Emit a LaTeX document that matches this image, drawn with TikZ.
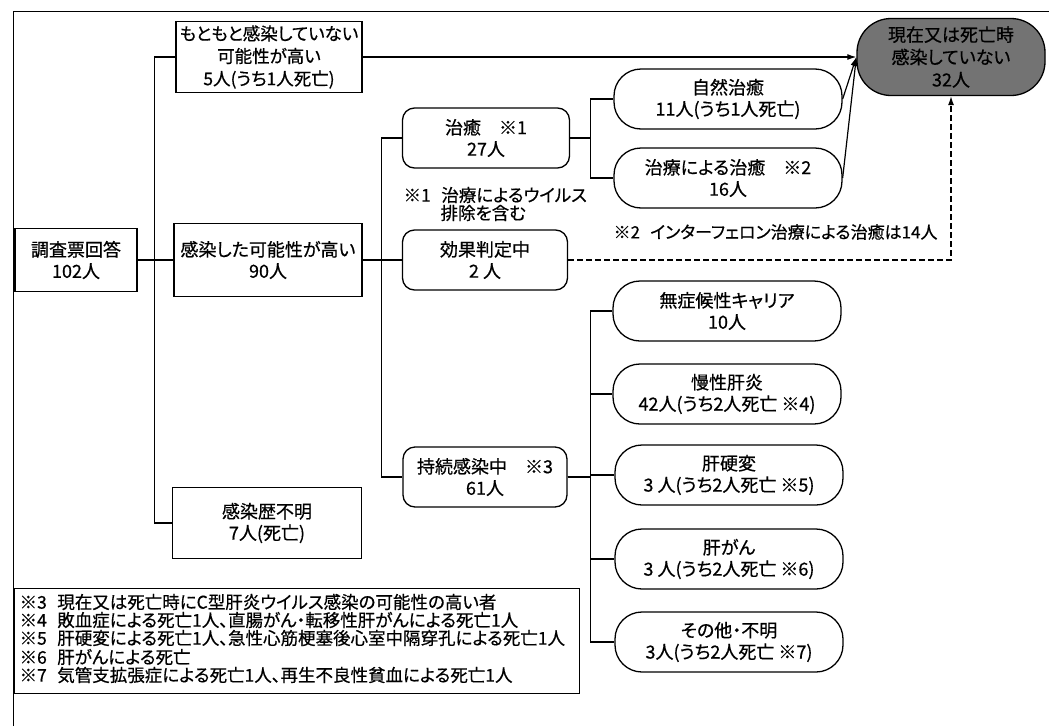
\documentclass[tikz,border=0pt]{standalone}
\usepackage{fontspec}
\setmainfont{Noto Sans CJK JP}[RawFeature=+palt, FakeBold=0.6]
\usetikzlibrary{arrows.meta}
\begin{document}
\begin{tikzpicture}[x=1pt,y=-1pt,
  line width=1.2pt,
  box/.style={draw, line width=1.3pt, align=center, inner sep=0pt, font=\fontsize{18}{21.5}\selectfont},
  rbox/.style={box, rounded corners=12pt},
  pill/.style={box, rounded corners=27pt, minimum width=228pt, minimum height=60pt},
  note/.style={inner sep=0pt, anchor=west, font=\fontsize{17.5}{19}\selectfont},
  fnote/.style={inner sep=0pt, anchor=west, font=\fontsize{17.5}{18}\selectfont},
  arr/.style={-{Latex[length=9pt,width=6pt]}},
  dsh/.style={dash pattern=on 6pt off 3pt},
]
\useasboundingbox (0,0) rectangle (1049,726);
\draw[line width=1pt] (13,726) -- (13,11) -- (1049,11);

\node[box, minimum width=122pt, minimum height=63pt] (n102) at (76,260) {調査票回答\\102人};
\node[box, minimum width=186pt, minimum height=71pt, font=\fontsize{17.5}{22.5}\selectfont] (n5) at (269,57) {もともと感染していない\\可能性が高い\\5人(うち1人死亡)};
\node[box, minimum width=188pt, minimum height=73pt] (n90) at (268,260) {感染した可能性が高い\\90人};
\node[box, minimum width=189pt, minimum height=71pt] (n7) at (267,523) {感染歴不明\\7人(死亡)};

\node[rbox, minimum width=167pt, minimum height=60pt] (cure) at (486,138) {治癒\quad ※1\\27人};
\node[rbox, minimum width=165pt, minimum height=60pt] (judge) at (485,260) {効果判定中\\2 人};
\node[rbox, minimum width=164pt, minimum height=60pt] (pers) at (485,477) {持続感染中\quad ※3\\61人};

\node[pill] (nat) at (728,99) {自然治癒\\11人(うち1人死亡)};
\node[pill] (treat) at (728,178) {治療による治癒\quad ※2\\16人};
\node[pill] (asym) at (727,311) {無症候性キャリア\\10人};
\node[pill] (chr) at (727,394) {慢性肝炎\\42人(うち2人死亡 ※4)};
\node[pill] (cirr) at (729,475) {肝硬変\\3 人(うち2人死亡 ※5)};
\node[pill] (hcc) at (729,559) {肝がん\\3 人(うち2人死亡 ※6)};
\node[pill] (oth) at (729,642) {その他・不明\\3人(うち2人死亡 ※7)};

\node[box, fill=black!55, rounded corners=34pt, minimum width=188pt, minimum height=77pt, font=\fontsize{18}{22.5}\selectfont] (ell) at (951,57) {現在又は死亡時\\感染していない\\32人};

\node[note] (note1a) at (403,195) {※1\hspace{0.6em}治療によるウイルス};
\node[note] (note1b) at (440,213) {排除を含む};
\node[note, font=\fontsize{17}{19}\selectfont] (note2) at (613,232) {※2\hspace{0.6em}インターフェロン治療による治癒は14人};

\node[draw, line width=1.2pt, anchor=north west, minimum width=565pt, minimum height=105pt, inner sep=0pt] (fn) at (14,588) {};
\node[fnote] (fn3) at (19,602) {※3\hspace{0.6em}現在又は死亡時にC型肝炎ウイルス感染の可能性の高い者};
\node[fnote] (fn4) at (19,620) {※4\hspace{0.6em}敗血症による死亡1人、直腸がん・転移性肝がんによる死亡1人};
\node[fnote] (fn5) at (19,638) {※5\hspace{0.6em}肝硬変による死亡1人、急性心筋梗塞後心室中隔穿孔による死亡1人};
\node[fnote] (fn6) at (19,657) {※6\hspace{0.6em}肝がんによる死亡};
\node[fnote] (fn7) at (19,675) {※7\hspace{0.6em}気管支拡張症による死亡1人、再生不良性貧血による死亡1人};

\draw (n102) -- (n90);
\draw (n5.west) -- ++(-21,0) |- (n7.west);
\draw (n90) -- (judge);
\draw (cure.west) -- ++(-20,0) |- (pers.west);
\draw (cure.east) -- ++(20,0) |- (nat.west);
\draw (cure.east) -- ++(20,0) |- (treat.west);
\foreach \t in {asym,chr,cirr,hcc,oth} \draw (pers.east) -- ++(23,0) |- (\t.west);
\draw[arr] (n5.east) -- (ell.west);
\draw[arr] (nat.east) -- (ell.west);
\draw[arr] (treat.east) -- (ell.west);
\draw[arr, dsh] (judge.east) -| (ell.south);
\end{tikzpicture}
\end{document}
